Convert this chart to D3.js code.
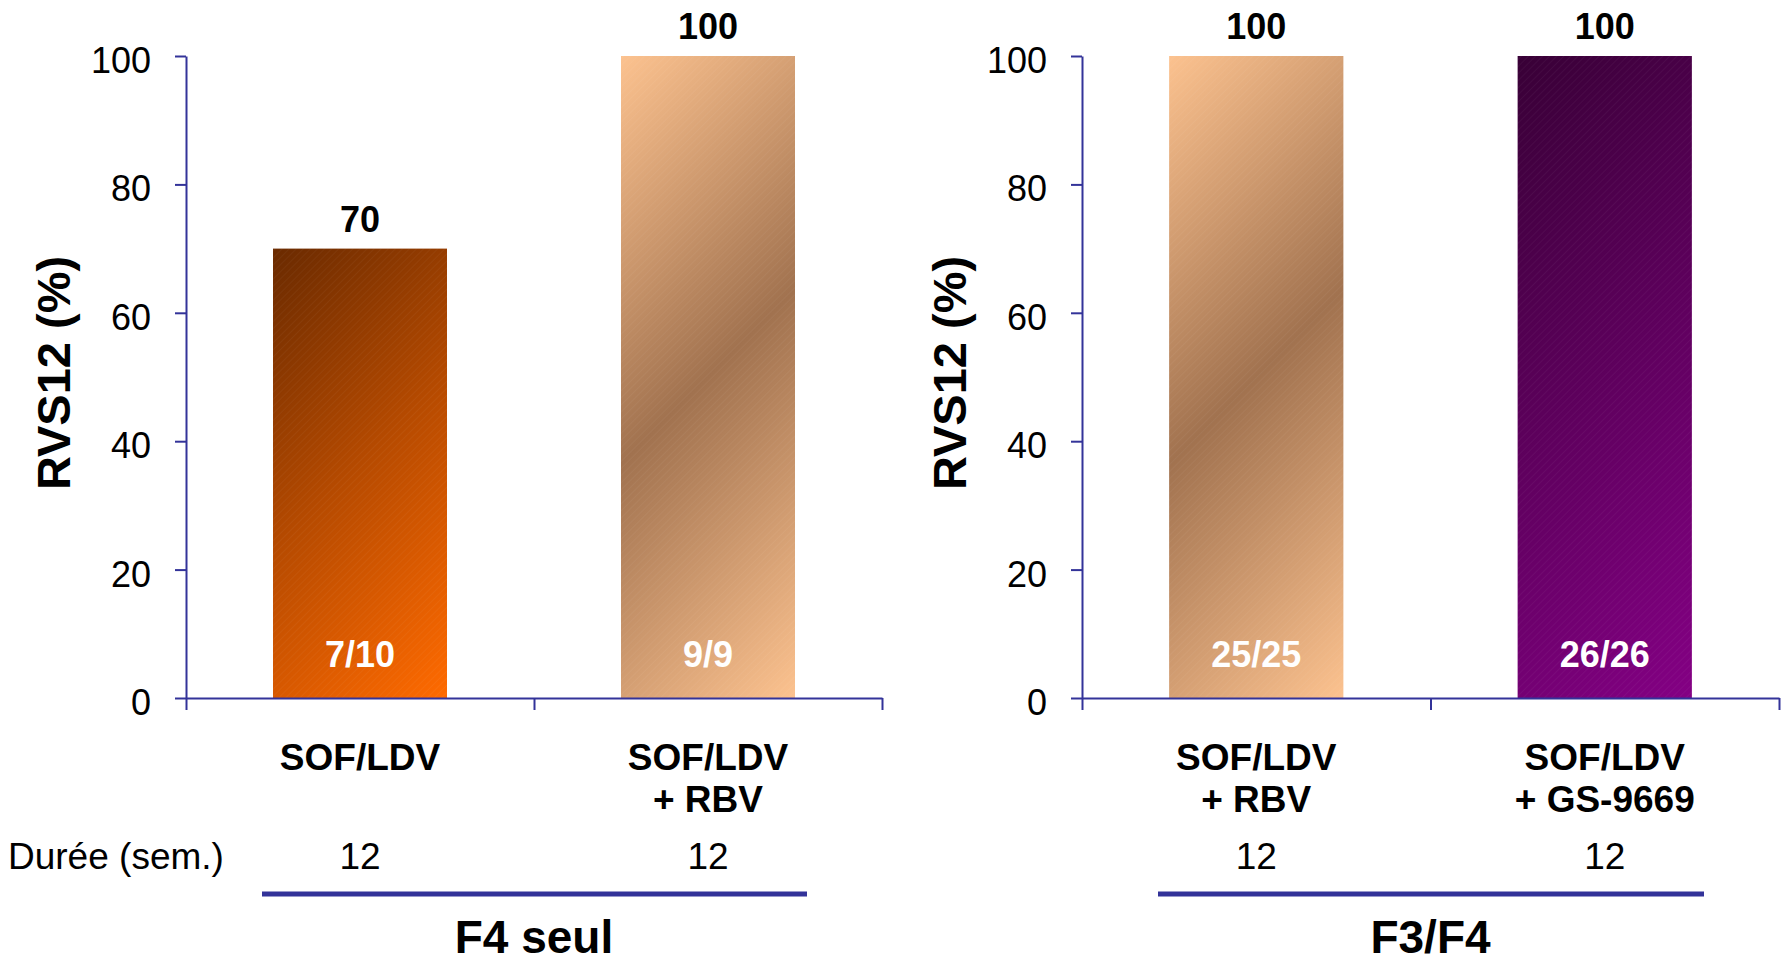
<!DOCTYPE html>
<html>
<head>
<meta charset="utf-8">
<script src="https://cdn.jsdelivr.net/npm/d3@7/dist/d3.min.js"></script>
<style>
  html, body { margin: 0; padding: 0; background: #ffffff; }
  svg { display: block; font-family: "Liberation Sans", Arial, sans-serif; }
</style>
</head>
<body>
<svg id="chart" width="1790" height="962"></svg>
<script>
// ---- data ----
const yTicks = [0, 20, 40, 60, 80, 100];
const yTitle = "RVS12 (%)";
const durationLabel = "Durée (sem.)";

const groupNames = ["F4 seul", "F3/F4"];

const categoriesF4 = [["SOF/LDV"], ["SOF/LDV", "+ RBV"]];
const valuesF4 = [70, 100];
const ratiosF4 = ["7/10", "9/9"];
const durationsF4 = ["12", "12"];

const categoriesF3F4 = [["SOF/LDV", "+ RBV"], ["SOF/LDV", "+ GS-9669"]];
const valuesF3F4 = [100, 100];
const ratiosF3F4 = ["25/25", "26/26"];
const durationsF3F4 = ["12", "12"];

// ---- layout / styles ----
const axisColor = "#333399";
const svg = d3.select("#chart");
const defs = svg.append("defs");

const palettes = {
  orange: [[0, "#6a2a00"], [0.5, "#b84b00"], [1, "#ff6a00"]],
  tan: [[0, "#fcc28f"], [0.5, "#a1724f"], [1, "#fcc28f"]],
  purple: [[0, "#380036"], [1, "#840084"]]
};

let gradCount = 0;
function barGradient(pal, x, yTop, w, h) {
  const id = "grad" + (gradCount++);
  const cx = x + w / 2, cy = yTop + h / 2, d = (w + h) / 4;
  const g = defs.append("linearGradient").attr("id", id)
    .attr("gradientUnits", "userSpaceOnUse")
    .attr("x1", cx - d).attr("y1", cy - d).attr("x2", cx + d).attr("y2", cy + d);
  palettes[pal].forEach(s => g.append("stop").attr("offset", s[0]).attr("stop-color", s[1]));
  return "url(#" + id + ")";
}

const hatch = defs.append("pattern").attr("id", "hatch")
  .attr("patternUnits", "userSpaceOnUse").attr("width", 5).attr("height", 5)
  .attr("patternTransform", "rotate(45)");
hatch.append("line").attr("x1", 0).attr("y1", 0).attr("x2", 0).attr("y2", 5)
  .attr("stroke", "#ffffff").attr("stroke-width", 0.8).attr("stroke-opacity", 0.1);

const panels = [
  { x0: 186, x1: 882, cats: categoriesF4, vals: valuesF4, ratios: ratiosF4, durs: durationsF4,
    pals: ["orange", "tan"], name: groupNames[0] },
  { x0: 1082, x1: 1779, cats: categoriesF3F4, vals: valuesF3F4, ratios: ratiosF3F4, durs: durationsF3F4,
    pals: ["tan", "purple"], name: groupNames[1] }
];

const y = d3.scaleLinear().domain([0, 100]).range([698, 56]);

panels.forEach((p, pi) => {
  const g = svg.append("g");
  const x = d3.scaleBand().domain(d3.range(p.vals.length))
    .range([p.x0, p.x1]).paddingInner(0.5).paddingOuter(0.25);

  // bars
  p.vals.forEach((v, i) => {
    const bx = x(i), by = y(v), bw = x.bandwidth(), bh = y(0) - y(v);
    g.append("rect").attr("x", bx).attr("y", by)
      .attr("width", bw).attr("height", bh)
      .attr("fill", barGradient(p.pals[i], bx, by, bw, bh));
    g.append("rect").attr("x", bx).attr("y", by)
      .attr("width", bw).attr("height", bh)
      .attr("fill", "url(#hatch)");
  });

  // y axis
  const ya = g.append("g").attr("transform", `translate(${p.x0},0)`)
    .call(d3.axisLeft(y).tickValues(yTicks).tickSize(11).tickSizeOuter(0).tickPadding(24));
  ya.selectAll("path,line").attr("stroke", axisColor).attr("stroke-width", 2);
  ya.selectAll("text").attr("font-size", 36).attr("fill", "#000")
    .attr("font-family", "'Liberation Sans', Arial, sans-serif").attr("dy", "0.46em");

  // x axis with boundary ticks
  const xb = d3.scaleLinear().domain([0, p.vals.length]).range([p.x0, p.x1]);
  const xa = g.append("g").attr("transform", `translate(0,${y(0)})`)
    .call(d3.axisBottom(xb).tickValues(d3.range(p.vals.length + 1)).tickFormat("")
      .tickSize(12).tickSizeOuter(0));
  xa.selectAll("path,line").attr("stroke", axisColor).attr("stroke-width", 2);

  // y title
  g.append("text")
    .attr("transform", `translate(${p.x0 - 116},${373}) rotate(-90)`)
    .attr("text-anchor", "middle").attr("font-size", 47).attr("font-weight", "bold")
    .text(yTitle);

  // value labels
  p.vals.forEach((v, i) => {
    const cx = x(i) + x.bandwidth() / 2;
    g.append("text").attr("x", cx).attr("y", y(v) - 17)
      .attr("text-anchor", "middle").attr("font-size", 36).attr("font-weight", "bold")
      .text(v);
    g.append("text").attr("x", cx).attr("y", 667)
      .attr("text-anchor", "middle").attr("font-size", 36).attr("font-weight", "bold")
      .attr("fill", "#ffffff").text(p.ratios[i]);
    p.cats[i].forEach((line, li) => {
      g.append("text").attr("x", cx).attr("y", 770 + li * 42)
        .attr("text-anchor", "middle").attr("font-size", 37).attr("font-weight", "bold")
        .text(line);
    });
    g.append("text").attr("x", cx).attr("y", 869)
      .attr("text-anchor", "middle").attr("font-size", 37).text(p.durs[i]);
  });

  // group line + name
  g.append("line").attr("x1", p.x0 + 76).attr("x2", p.x1 - 75)
    .attr("y1", 894).attr("y2", 894).attr("stroke", axisColor).attr("stroke-width", 5);
  g.append("text").attr("x", (p.x0 + p.x1) / 2).attr("y", 953)
    .attr("text-anchor", "middle").attr("font-size", 46).attr("font-weight", "bold")
    .text(p.name);
});

svg.append("text").attr("x", 8).attr("y", 869).attr("font-size", 37).text(durationLabel);
</script>
</body>
</html>
